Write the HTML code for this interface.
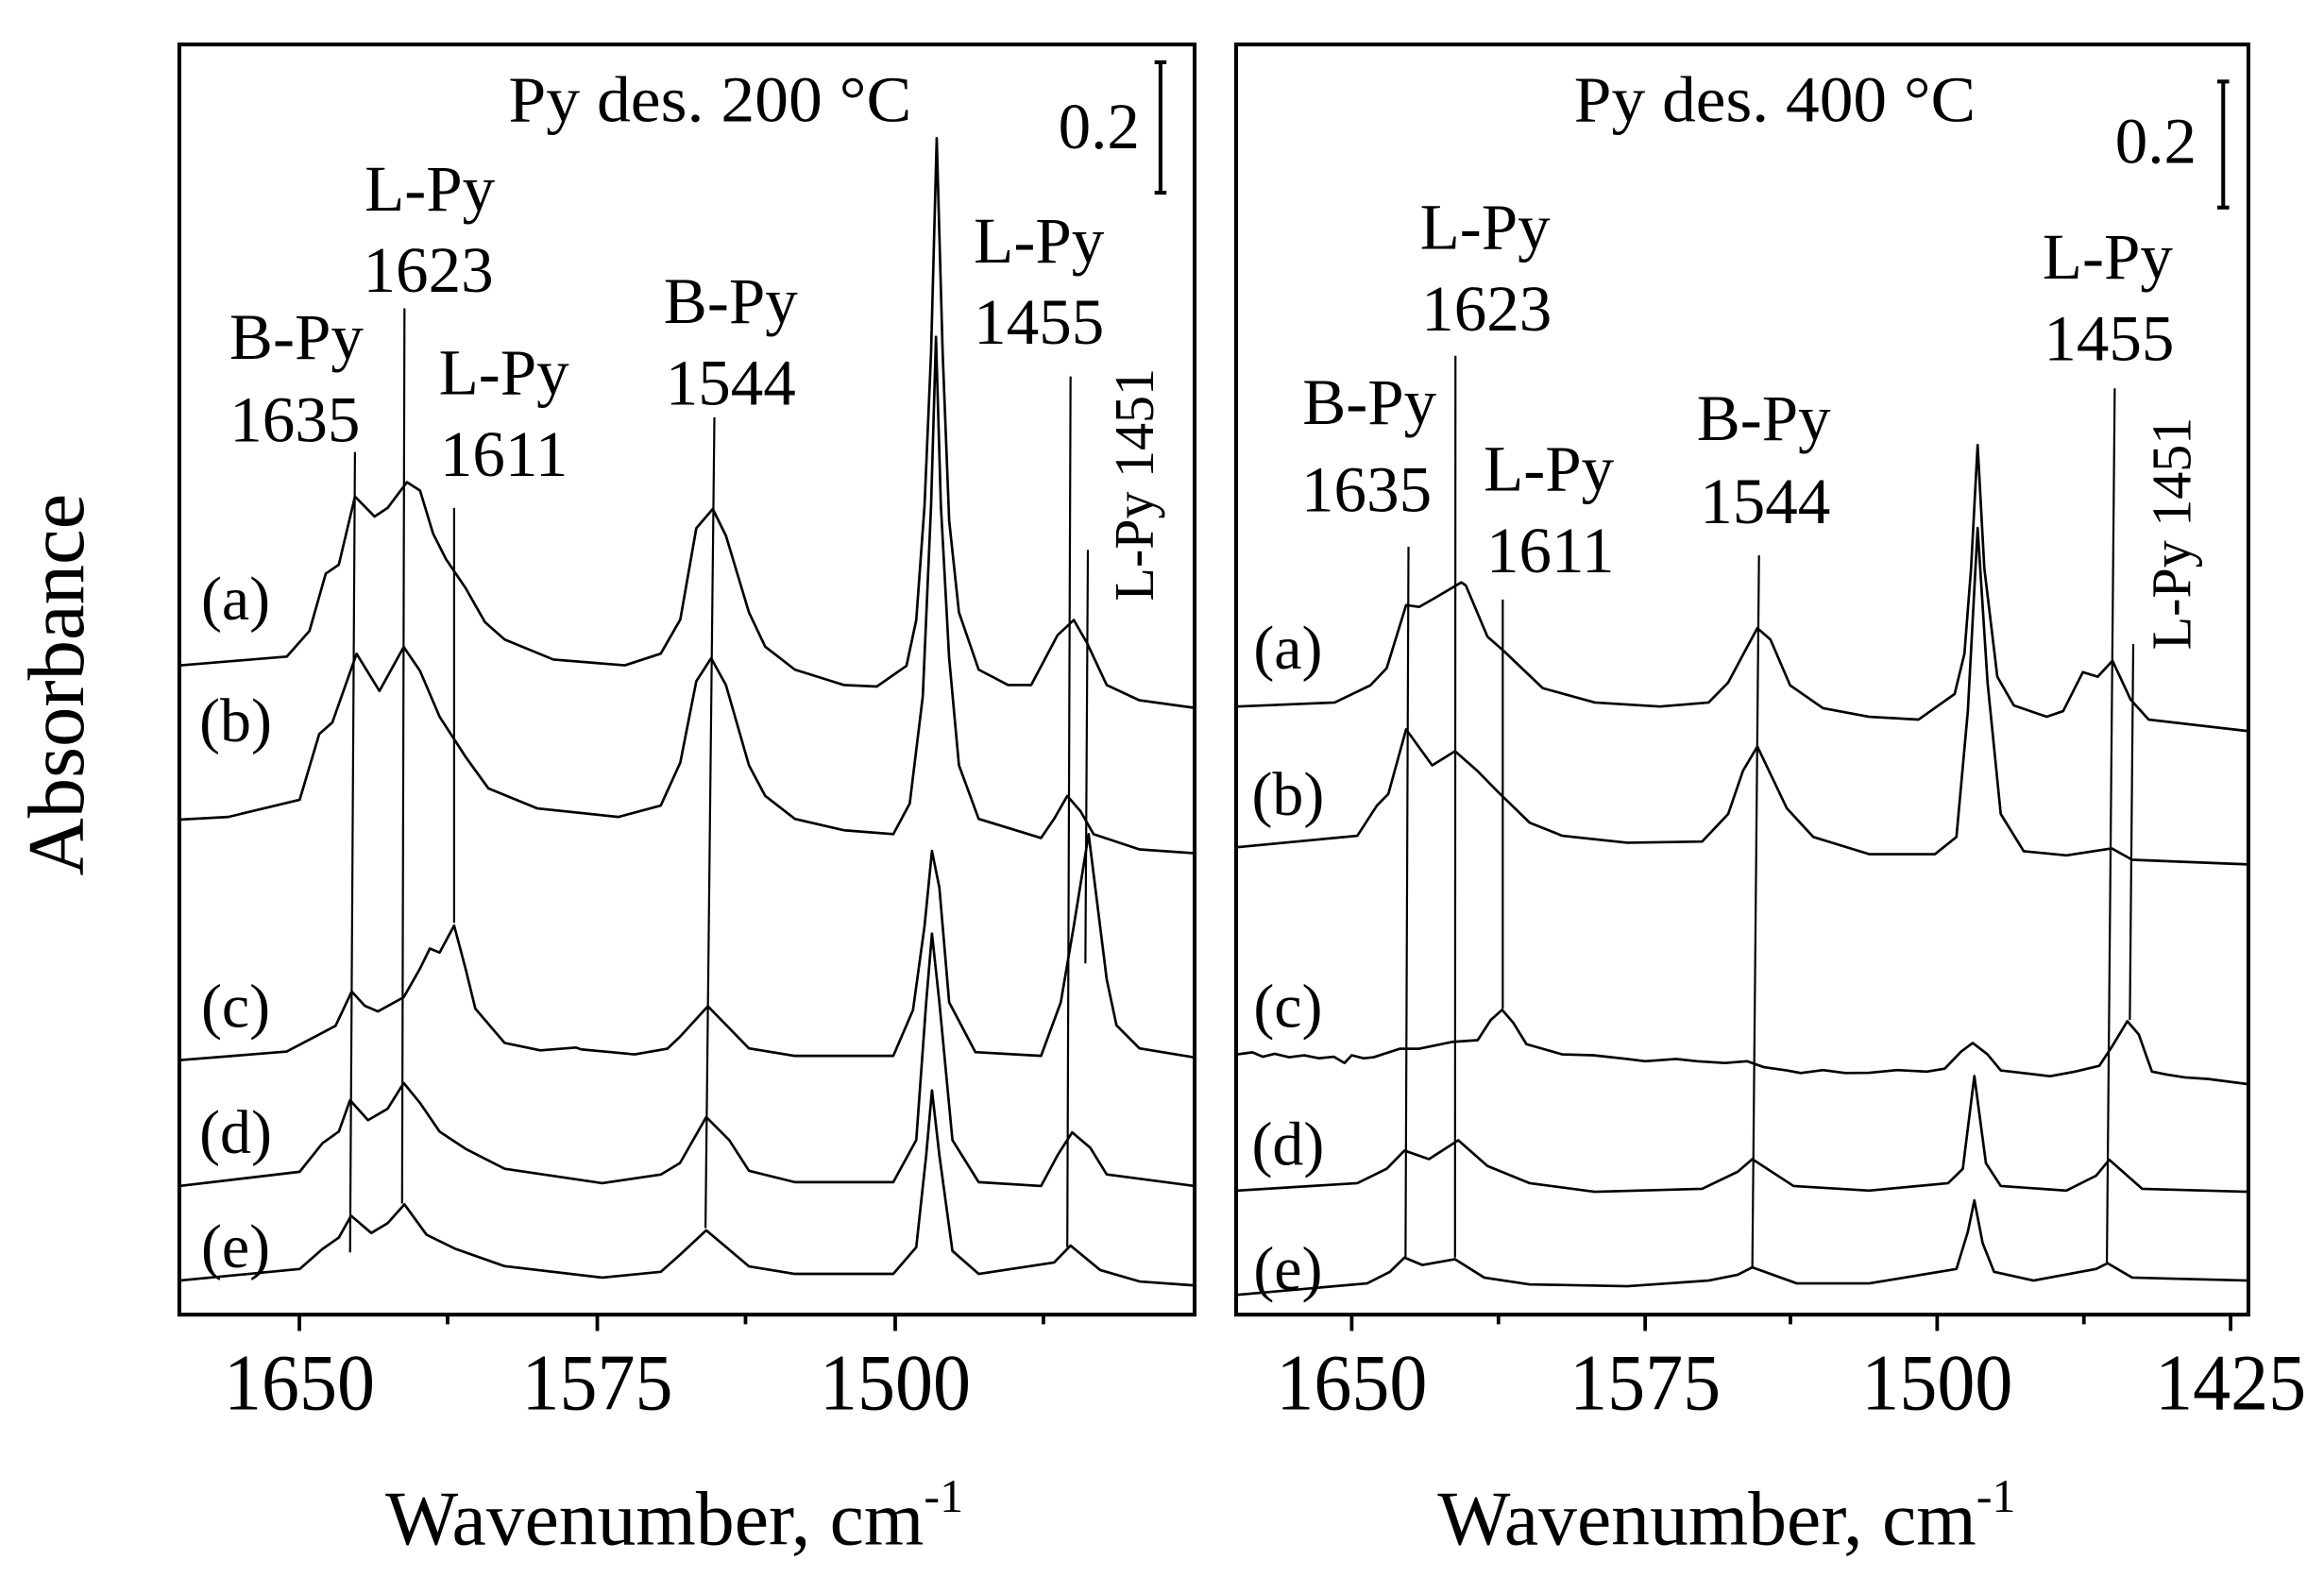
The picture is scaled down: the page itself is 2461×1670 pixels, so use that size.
<!DOCTYPE html>
<html><head><meta charset="utf-8"><style>
html,body{margin:0;padding:0;background:#fff;}
svg{display:block;}
text{font-family:"Liberation Serif",serif;fill:#000;}
</style></head><body>
<svg width="2461" height="1670" viewBox="0 0 1568 1064" xmlns="http://www.w3.org/2000/svg">
<rect x="0" y="0" width="1568" height="1064" fill="#fff"/>
<g fill="none" stroke="#000" stroke-width="1.7" stroke-linejoin="round">
<!-- left a -->
<polyline points="121,449 193.5,443 208.8,425.7 219.8,387 228.6,381 239.5,335 252.7,348.5 261.5,342.7 274.6,325.3 283.4,331 292.2,360 301,377.4 314.1,396.7 327.3,419.9 340.5,431.5 373.4,445 421.6,448.9 445.8,441 459,418 469.8,356.4 480.9,343.4 489.8,361.5 505.3,413.1 516.3,436.3 536.3,451.8 569.5,462.2 591.6,463.2 611.6,449.2 618.2,418.3 623.8,340.9 628.2,237.7 632,93.2 636,237.7 640.4,351.2 647,413.1 660.3,451.8 680.2,462.2 695.7,462.2 713.5,428.6 724.5,418.3 733.4,433.8 746.7,462.2 768.8,472.5 806,477.6"/>
<!-- left b -->
<polyline points="121,553 154,551.2 202.2,539.6 215.4,495.2 224.2,487.5 240.6,441.1 256,466.2 272.4,436.5 283.4,452.7 296.6,483.6 314.1,510.6 329.5,531.9 362.4,545.4 417.2,551.2 445.8,543.5 459,514.5 469.8,459.6 479.8,444.1 489.8,462.2 505.3,516.3 516.3,537 536.3,552.5 569.5,560.2 602.7,562.8 613.8,542.1 622.6,469.9 628.2,340.9 631.5,227.3 634.8,340.9 640.4,444.1 647,516.3 660.3,552.5 702.4,565.4 711.2,552.5 720.1,537 729,547.3 737.8,562.8 768.8,573.1 806,575.7"/>
<!-- left c -->
<polyline points="121,715.3 193.4,709.5 215.4,697.9 226.4,692.1 237.3,669 246.1,678.6 255,682.4 272.4,672.8 283.4,653.5 290,640 296.6,642.7 306.4,624.5 314.1,653.5 320.7,680.5 340.5,703.7 364.6,708.7 388.7,706.8 392,708 428.2,711.4 450.2,707.6 458.8,699.5 477.6,678.9 505.3,707.3 536.3,712.4 602.7,712.4 616,681.5 623.8,624.7 628.8,574.1 633.8,598.9 640.4,676.3 658.1,709.9 702.4,712.4 715.7,676.3 724.5,624.7 734.5,562.8 746.7,660.8 753.3,691.8 768.8,707.3 806,713.5"/>
<!-- left d -->
<polyline points="121,800.2 202.2,790.6 217.6,771.3 228.6,763.5 236.2,742.3 248.3,755.8 261.5,748.1 272.4,730.7 283.4,744.2 296.6,763.5 314.1,775.1 340.5,788.6 406.3,798.3 445.8,792.5 458.8,784.7 476.5,753.7 492,769.2 505.3,789.9 536.3,797.6 602.7,797.6 618.2,769.2 624.9,676.3 628.8,629.9 633.8,676.3 642.6,769.2 660.3,797.6 702.4,800.2 713.5,779.5 723.4,764 735.6,774.4 746.7,792.4 806,800.2"/>
<!-- left e -->
<polyline points="121,864 202.2,856.2 217.6,842.7 228.6,835 236.9,820.3 250.5,831.9 261.5,825.3 272.9,812.6 287.8,833.1 307.5,842.7 340.5,854.3 406.3,862 445.8,858.1 458.8,846.6 476.5,830.1 505.3,854.4 536.3,859.5 602.7,859.5 618.2,841.5 624.9,779.5 628.8,735.7 633.8,779.5 642.6,844 660.3,859.5 711.2,851.8 722.3,840.4 742.3,856.9 768.8,864.6 806,867.3"/>
<!-- right a -->
<polyline points="834.7,476.7 900.5,474 924.6,462.4 935.6,450.8 948.7,408.3 957.5,409.5 966.3,404.5 986,392.9 989,395 1003.6,429.6 1014.6,439.2 1040.9,464.3 1076,474 1119.9,476.7 1152.8,474 1166,460.5 1178,438 1185.7,423.8 1194.5,431.5 1207.8,462.4 1230,477.8 1261.1,483.6 1294.4,485.5 1318.8,468.2 1325.4,441.1 1329.9,383.2 1334.3,300.2 1338.8,383.2 1347.6,456.6 1358.7,475.9 1380.9,483.6 1392,479.8 1405.3,453.5 1415.3,456.6 1425.3,445.8 1437.5,472 1449.7,485.5 1517,493.3"/>
<!-- right b -->
<polyline points="834.7,571.6 915.8,563.9 929,543.5 936.7,535.7 948.7,492.1 966.3,516.4 981.7,506.8 997,520.3 1010.2,533.8 1032.1,555.1 1054.1,563.9 1098,568.6 1148.4,567.8 1166,549.2 1176,520 1185.7,503.7 1205.6,545.4 1223.4,564.7 1261.1,576.3 1305.5,576.3 1320,564.7 1327.7,479.8 1334.3,356.2 1341,460.5 1349.9,549.2 1365.4,574.3 1394.2,577.1 1424.8,572.4 1438.6,580.1 1517,583.2"/>
<!-- right c -->
<polyline points="834.7,711.4 845,710 852,713 860,711 869.8,713.3 880,712 890,714 900,713 905,716 907.1,717.2 912,712 920,714 926.8,713.3 944.4,707.6 957.5,707.6 979.5,703 997,701.8 1005.8,688.2 1013.5,681.3 1021.1,690.2 1029.9,704.5 1054.1,711.4 1075,712 1098,714.5 1110,716 1130.8,714.5 1145,716 1163.8,717.2 1178.7,716 1190,720 1205.6,722.2 1215,724 1230,722 1245,724 1261.1,723.8 1280,722 1300,723 1312.1,721 1323.2,709.5 1331,703.7 1341,711.4 1349.9,722.2 1365,724 1383.1,726.1 1400,723 1416.4,719.1 1425.3,705.6 1435.3,689 1443,697.9 1451.9,723 1462,725 1474.1,726.9 1490,728 1517,731.5"/>
<!-- right d -->
<polyline points="834.7,803.3 915.8,798.3 935.6,788.6 947.6,776.3 964.1,782.1 983.9,769.3 1003.6,786.7 1032.1,798.3 1076,804.1 1148.4,802.1 1172.4,790.6 1182.3,782.1 1210.1,800.2 1261.1,803.3 1314.4,798.3 1324.3,788.6 1332.1,726 1339.9,784.8 1349.9,800.2 1394.2,803.3 1414.2,793.3 1423.1,782.5 1445.3,802.1 1517,804.1"/>
<!-- right e -->
<polyline points="834.7,873.6 922.4,865.9 937.8,858.1 947.6,848.5 959.7,853.5 981.7,849.6 1001.4,862 1032.1,866.6 1098,867.8 1152.8,864 1172.4,860.1 1182.3,855.1 1212.3,865.9 1261.1,865.9 1320,856.2 1327.7,831.1 1332.1,809.9 1337.7,838.8 1345.4,858.1 1372,864 1414.2,856.2 1422,852.3 1438.6,862 1517,864"/>
</g>
<g stroke="#000" stroke-width="1.4">
<line x1="239.5" y1="305" x2="236.2" y2="845"/>
<line x1="272.9" y1="208" x2="271.3" y2="812"/>
<line x1="306.4" y1="342.7" x2="306.4" y2="622.6"/>
<line x1="482" y1="281.5" x2="476" y2="828.6"/>
<line x1="722.3" y1="254" x2="720.1" y2="841.4"/>
<line x1="734" y1="371" x2="732.3" y2="650"/>
<line x1="950.3" y1="368.9" x2="948.3" y2="848"/>
<line x1="982" y1="240" x2="981.7" y2="848.5"/>
<line x1="1013.9" y1="404.5" x2="1013.9" y2="680.5"/>
<line x1="1186.8" y1="374.7" x2="1182.3" y2="855"/>
<line x1="1426.8" y1="262" x2="1421.5" y2="852.3"/>
<line x1="1439.3" y1="434.6" x2="1437" y2="688.2"/>
</g>
<g fill="none" stroke="#000" stroke-width="2.6">
<rect x="121" y="30" width="685" height="857"/>
<rect x="834" y="30" width="683" height="857"/>
<line x1="783" y1="42" x2="783" y2="130"/><line x1="779" y1="42" x2="787" y2="42"/><line x1="779" y1="130" x2="787" y2="130"/>
<line x1="1500" y1="55" x2="1500" y2="140"/><line x1="1496" y1="55" x2="1504" y2="55"/><line x1="1496" y1="140" x2="1504" y2="140"/>
</g>
<g stroke="#000" stroke-width="2.4">
<line x1="202" y1="887" x2="202" y2="898"/><line x1="403" y1="887" x2="403" y2="898"/><line x1="604" y1="887" x2="604" y2="898"/>
<line x1="302" y1="887" x2="302" y2="893.5"/><line x1="503" y1="887" x2="503" y2="893.5"/><line x1="704" y1="887" x2="704" y2="893.5"/>
<line x1="912" y1="887" x2="912" y2="898"/><line x1="1110" y1="887" x2="1110" y2="898"/><line x1="1307" y1="887" x2="1307" y2="898"/><line x1="1505" y1="887" x2="1505" y2="898"/>
<line x1="1011" y1="887" x2="1011" y2="893.5"/><line x1="1208" y1="887" x2="1208" y2="893.5"/><line x1="1406" y1="887" x2="1406" y2="893.5"/>
</g>
<g font-size="54" text-anchor="middle">
<text x="202" y="951" textLength="102" lengthAdjust="spacingAndGlyphs">1650</text>
<text x="403" y="951" textLength="102" lengthAdjust="spacingAndGlyphs">1575</text>
<text x="604" y="951" textLength="102" lengthAdjust="spacingAndGlyphs">1500</text>
<text x="912" y="951" textLength="102" lengthAdjust="spacingAndGlyphs">1650</text>
<text x="1110" y="951" textLength="102" lengthAdjust="spacingAndGlyphs">1575</text>
<text x="1307" y="951" textLength="102" lengthAdjust="spacingAndGlyphs">1500</text>
<text x="1505" y="951" textLength="102" lengthAdjust="spacingAndGlyphs">1425</text>
</g>
<g font-size="52" text-anchor="middle">
<text x="455" y="1042">Wavenumber, cm<tspan font-size="32" dy="-22">-1</tspan></text>
<text x="1165" y="1042">Wavenumber, cm<tspan font-size="32" dy="-22">-1</tspan></text>
</g>
<text font-size="54" text-anchor="middle" transform="translate(56,462) rotate(-90)">Absorbance</text>
<g font-size="44">
<text x="343" y="82" textLength="272" lengthAdjust="spacingAndGlyphs">Py des. 200 °C</text>
<text x="714" y="100">0.2</text>
<text x="1062" y="82" textLength="271" lengthAdjust="spacingAndGlyphs">Py des. 400 °C</text>
<text x="1427" y="110">0.2</text>
<g text-anchor="middle">
<text x="200" y="242">B-Py</text><text x="199" y="298">1635</text>
<text x="290" y="142">L-Py</text><text x="289" y="197">1623</text>
<text x="340" y="266">L-Py</text><text x="340" y="321">1611</text>
<text x="493" y="218">B-Py</text><text x="493" y="273">1544</text>
<text x="701" y="177">L-Py</text><text x="701" y="232">1455</text>
<text x="924" y="286">B-Py</text><text x="922" y="345">1635</text>
<text x="1002" y="168">L-Py</text><text x="1003" y="223">1623</text>
<text x="1045" y="331">L-Py</text><text x="1046" y="386">1611</text>
<text x="1190" y="297">B-Py</text><text x="1191" y="353">1544</text>
<text x="1422" y="188">L-Py</text><text x="1423" y="243">1455</text>
</g>
<g font-size="42" text-anchor="middle">
<text x="159" y="418">(a)</text><text x="159" y="500">(b)</text><text x="159" y="693">(c)</text><text x="159" y="778">(d)</text><text x="159" y="855">(e)</text>
<text x="869" y="451">(a)</text><text x="869" y="550">(b)</text><text x="869" y="693">(c)</text><text x="869" y="786">(d)</text><text x="869" y="870">(e)</text>
</g>
<text font-size="38" text-anchor="middle" textLength="157" lengthAdjust="spacingAndGlyphs" transform="translate(778,327) rotate(-90)">L-Py 1451</text>
<text font-size="38" text-anchor="middle" textLength="157" lengthAdjust="spacingAndGlyphs" transform="translate(1478,360) rotate(-90)">L-Py 1451</text>
</g>
</svg>
</body></html>
